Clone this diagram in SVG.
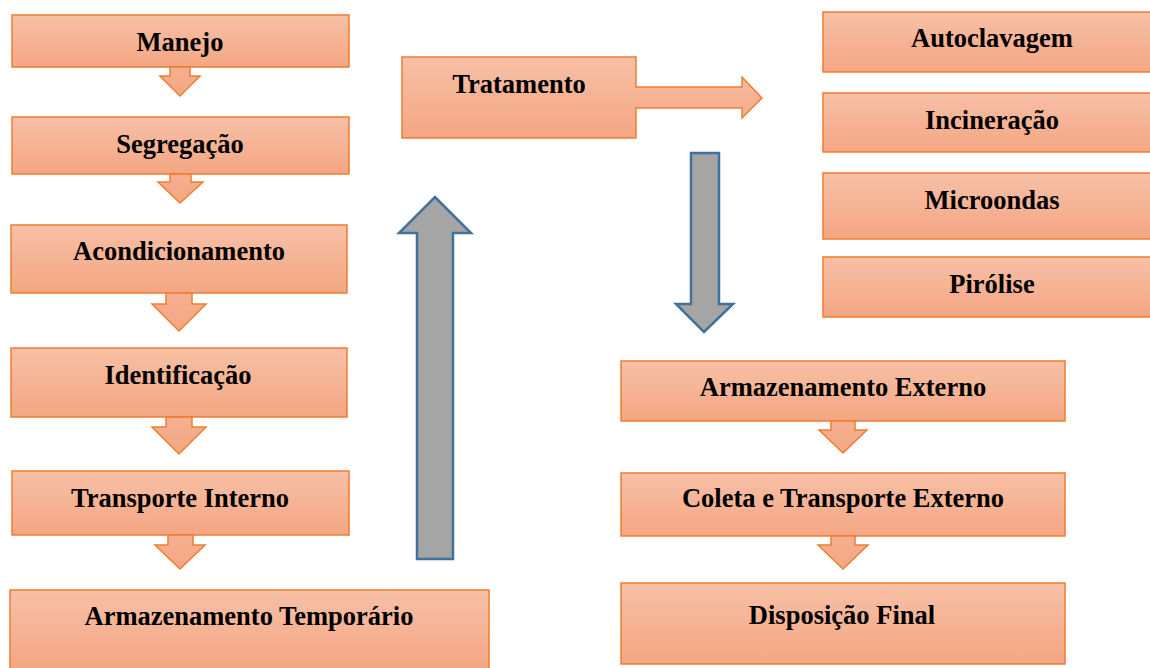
<svg xmlns="http://www.w3.org/2000/svg" width="1150" height="668" viewBox="0 0 1150 668">
<defs>
<linearGradient id="og" x1="0" y1="0" x2="0" y2="1">
<stop offset="0" stop-color="#F7C0A6"/>
<stop offset="1" stop-color="#F4A683"/>
</linearGradient>
<linearGradient id="ag" x1="0" y1="0" x2="0" y2="1">
<stop offset="0" stop-color="#F5B091"/>
<stop offset="1" stop-color="#F4A683"/>
</linearGradient>
</defs>
<style>
.box{fill:url(#og);stroke:#ED7D31;stroke-width:1.5}
.sa{fill:url(#ag);stroke:#ED7D31;stroke-width:1.5;stroke-linejoin:miter}
.ga{fill:#A5A5A5;stroke:#41719C;stroke-width:2.5;stroke-linejoin:miter}
.t{font-family:"Liberation Serif","Times New Roman",serif;font-weight:bold;font-size:26.5px;fill:#000;text-anchor:middle}
</style>
<rect width="1150" height="668" fill="#FFFFFF"/>
<g id="manejo"><rect class="box" x="12" y="15" width="337" height="52"/><text class="t" x="180" y="51">Manejo</text></g>
<g id="segregacao"><rect class="box" x="12" y="117" width="337" height="57"/><text class="t" x="180" y="153">Segregação</text></g>
<g id="acondicionamento"><rect class="box" x="11" y="225" width="336" height="68"/><text class="t" x="179" y="260">Acondicionamento</text></g>
<g id="identificacao"><rect class="box" x="11" y="348" width="336" height="69"/><text class="t" x="178" y="384">Identificação</text></g>
<g id="transporte-interno"><rect class="box" x="12" y="471" width="337" height="64"/><text class="t" x="180" y="507">Transporte Interno</text></g>
<g id="armazenamento-temporario"><rect class="box" x="10" y="590" width="479" height="80"/><text class="t" x="249" y="625">Armazenamento Temporário</text></g>
<g id="tratamento"><polygon class="box" points="402,57 636,57 636,87 742,87 742,77 762,98 742,118 742,108 636,108 636,138 402,138"/><text class="t" x="519" y="93">Tratamento</text></g>
<g id="autoclavagem"><rect class="box" x="823" y="12" width="330" height="60"/><text class="t" x="992" y="47">Autoclavagem</text></g>
<g id="incineracao"><rect class="box" x="823" y="93" width="330" height="59"/><text class="t" x="992" y="129">Incineração</text></g>
<g id="microondas"><rect class="box" x="823" y="173" width="330" height="66"/><text class="t" x="992" y="209">Microondas</text></g>
<g id="pirolise"><rect class="box" x="823" y="257" width="330" height="60"/><text class="t" x="992" y="293">Pirólise</text></g>
<g id="armazenamento-externo"><rect class="box" x="621" y="361" width="444" height="60"/><text class="t" x="843" y="396">Armazenamento Externo</text></g>
<g id="coleta"><rect class="box" x="621" y="473" width="444" height="63"/><text class="t" x="843" y="507">Coleta e Transporte Externo</text></g>
<g id="disposicao-final"><rect class="box" x="621" y="583" width="444" height="81"/><text class="t" x="842" y="624">Disposição Final</text></g>
<g id="connectors">
<polygon class="sa" points="170,67 190,67 190,76 200,76 180,96 160,76 170,76"/>
<polygon class="sa" points="170,174 191,174 191,182 203,182 180,203 158,182 170,182"/>
<polygon class="sa" points="166,293 192,293 192,304 206,304 179,331 152,304 166,304"/>
<polygon class="sa" points="166,417 192,417 192,427 206,427 179,454 152,427 166,427"/>
<polygon class="sa" points="168,535 193,535 193,545 205,545 180,569 155,545 168,545"/>
<polygon class="ga" points="417,559 453,559 453,233 471,233 435,197 399,233 417,233"/>
<polygon class="ga" points="691,153 719,153 719,304 733,304 704,332 676,304 691,304"/>
<polygon class="sa" points="831,421 855,421 855,430 867,430 843,453 819,430 831,430"/>
<polygon class="sa" points="831,536 855,536 855,545 868,545 843,569 818,545 831,545"/>
</g>
</svg>
